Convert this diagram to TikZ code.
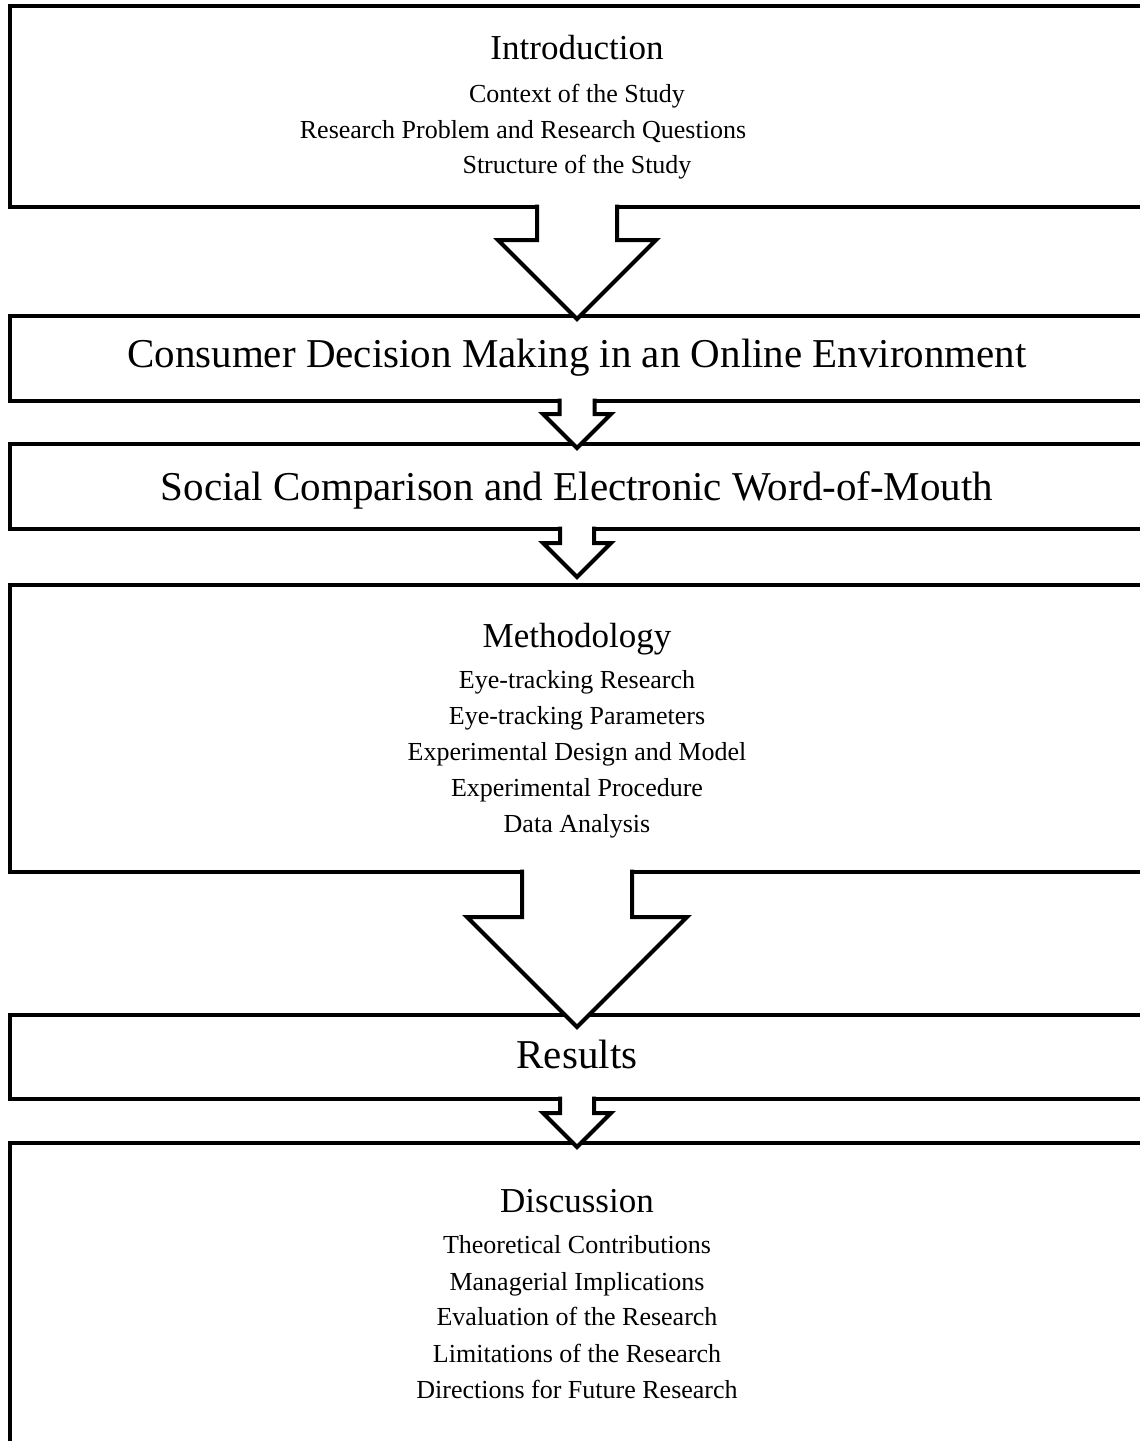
\documentclass[tikz,border=0pt]{standalone}
\usepackage{fontspec}
\setmainfont{Liberation Serif}
\usetikzlibrary{calc}
\tikzset{
  boxst/.style={draw=black, line width=4pt, fill=white, rectangle, inner sep=0pt, outer sep=0pt, anchor=north west, minimum width=1150pt},
  barrowst/.style={draw=black, fill=white, line width=4pt, line join=miter, miter limit=10},
  head/.style={inner sep=0pt, anchor=base, font=\fontsize{35}{40}\selectfont},
  sub/.style={inner sep=0pt, anchor=base, font=\fontsize{26}{30}\selectfont},
  big/.style={inner sep=0pt, anchor=base, font=\fontsize{41}{46}\selectfont}
}
\begin{document}
\begin{tikzpicture}[x=1pt, y=-1pt]
\useasboundingbox (0,0) rectangle (1140,1441);
\clip (0,0) rectangle (1140,1441);
\fill[white] (0,0) rectangle (1140,1441);
\coordinate (ax) at (577,0);
% boxes
\node[boxst, minimum height=201pt] (b1) at (10,6) {};
\node[boxst, minimum height=85pt] (b2) at (10,316) {};
\node[boxst, minimum height=85pt] (b3) at (10,444) {};
\node[boxst, minimum height=287pt] (b4) at (10,585) {};
\node[boxst, minimum height=84pt] (b5) at (10,1015) {};
\node[boxst, minimum height=360pt] (b6) at (10,1143) {};
% block arrows (shaft half width s, shaft length L, wing half width W)
% A1: s=40, L=33, W=79
\filldraw[barrowst] ([yshift=2.5pt]b1.south -| ax) ++(-40,0) -- ++(0,35.5) -- ++(-39,0) -- ++(79,79) -- ++(79,-79) -- ++(-39,0) -- ++(0,-35.5);
% A2: s=17.5, L=13, W=34
\filldraw[barrowst] ([yshift=2.5pt]b2.south -| ax) ++(-17.5,0) -- ++(0,15.5) -- ++(-16.5,0) -- ++(34,34) -- ++(34,-34) -- ++(-16.5,0) -- ++(0,-15.5);
% A3: s=17, L=14, W=34
\filldraw[barrowst] ([yshift=2.5pt]b3.south -| ax) ++(-17,0) -- ++(0,16.5) -- ++(-17,0) -- ++(34,34) -- ++(34,-34) -- ++(-17,0) -- ++(0,-16.5);
% A4: s=55, L=45, W=110
\filldraw[barrowst] ([yshift=2.5pt]b4.south -| ax) ++(-55,0) -- ++(0,47.5) -- ++(-55,0) -- ++(110,110) -- ++(110,-110) -- ++(-55,0) -- ++(0,-47.5);
% A5: s=17, L=14, W=34
\filldraw[barrowst] ([yshift=2.5pt]b5.south -| ax) ++(-17,0) -- ++(0,16.5) -- ++(-17,0) -- ++(34,34) -- ++(34,-34) -- ++(-17,0) -- ++(0,-16.5);
% texts
\node[head] (t1) at (577,59) {Introduction};
\node[sub] (t1a) at (577,102) {Context of the Study};
\node[sub] (t1b) at (523,138) {Research Problem and Research Questions};
\node[sub] (t1c) at (577,173) {Structure of the Study};
\node[big] (t2) at (577,367) {Consumer Decision Making in an Online Environment};
\node[big] (t3) at (577,500) {Social Comparison and Electronic Word-of-Mouth};
\node[head] (t4) at (577,647) {Methodology};
\node[sub] (t4a) at (577,688) {Eye-tracking Research};
\node[sub] (t4b) at (577,724) {Eye-tracking Parameters};
\node[sub] (t4c) at (577,760) {Experimental Design and Model};
\node[sub] (t4d) at (577,796) {Experimental Procedure};
\node[sub] (t4e) at (577,832) {Data Analysis};
\node[big] (t5) at (577,1068) {Results};
\node[head] (t6) at (577,1212) {Discussion};
\node[sub] (t6a) at (577,1253) {Theoretical Contributions};
\node[sub] (t6b) at (577,1290) {Managerial Implications};
\node[sub] (t6c) at (577,1325) {Evaluation of the Research};
\node[sub] (t6d) at (577,1362) {Limitations of the Research};
\node[sub] (t6e) at (577,1398) {Directions for Future Research};
\end{tikzpicture}
\end{document}
